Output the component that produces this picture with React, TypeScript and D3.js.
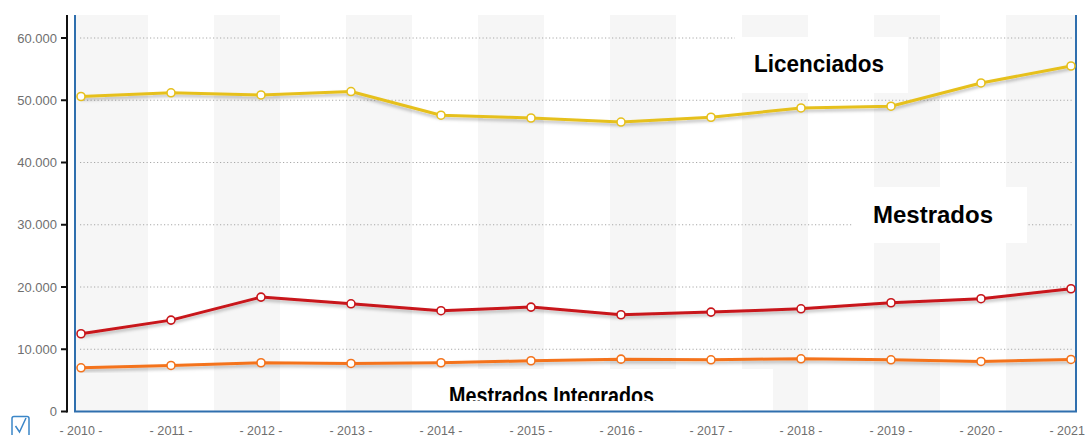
import React from "react";
import * as d3 from "d3";

const years = ["2010","2011","2012","2013","2014","2015","2016","2017","2018","2019","2020","2021"];
const licenciados = [50600, 51200, 50850, 51400, 47600, 47150, 46500, 47270, 48760, 49040, 52780, 55500];
const mestrados = [12490, 14680, 18380, 17300, 16190, 16770, 15540, 15970, 16500, 17470, 18120, 19720];
const integrados = [7020, 7400, 7830, 7720, 7830, 8150, 8410, 8310, 8470, 8310, 8040, 8360];
const yTicks = [0, 10000, 20000, 30000, 40000, 50000, 60000];
const seriesNames = ["Licenciados", "Mestrados", "Mestrados Integrados"];
const seriesColors = ["#e6c01e", "#c8161a", "#f4731c"];

const W = 1086, H = 435;
const plotL = 75, plotR = 1076, plotB = 411.5;

export default function App() {
  const x = d3.scalePoint<string>().domain(years).range([81, 1071]);
  const y = d3.scaleLinear().domain([0, 60000]).range([411.5, 38]);
  const bands = d3.scaleBand<number>().domain(d3.range(15)).range([82, 1072]).padding(0);
  const fmt = (v: number) => d3.format(",")(v).replace(/,/g, ".");
  const line = d3.line<number>().x((_, i) => x(years[i])!).y((v) => y(v));
  const series = [licenciados, mestrados, integrados];

  return (
    <svg width={W} height={H} style={{ position: "absolute", left: 0, top: 0, background: "#fff" }}>
      <defs>
        <filter id="sh" x="-5%" y="-50%" width="110%" height="200%">
          <feDropShadow dx="0" dy="2.5" stdDeviation="1.5" floodColor="#000" floodOpacity="0.25" />
        </filter>
        <clipPath id="clipMI">
          <rect x={430} y={369} width={343} height={32} />
        </clipPath>
      </defs>
      <rect x={0} y={0} width={W} height={H} fill="#fff" />
      {/* alternating bands */}
      {bands.domain().filter((i) => i % 2 === 0).map((i) => {
        const x0 = i === 0 ? plotL : bands(i)!;
        const x1 = i === 14 ? plotR : bands(i)! + bands.bandwidth();
        return <rect key={i} x={x0} y={15} width={x1 - x0} height={plotB - 15} fill="#f6f6f6" />;
      })}
      {/* gridlines */}
      {yTicks.filter((t) => t > 0).map((t) => (
        <line key={t} x1={80} x2={1073} y1={y(t)} y2={y(t)} stroke="#a8a8a8" strokeWidth={1} strokeDasharray="1.2,2.3" />
      ))}
      {/* black y axis */}
      <line x1={67} x2={67} y1={15} y2={412.5} stroke="#111" strokeWidth={2} />
      {yTicks.map((t) => (
        <g key={t}>
          <line x1={61} x2={67} y1={y(t)} y2={y(t)} stroke="#111" strokeWidth={2} />
          <text x={57} y={y(t)} dy="0.35em" textAnchor="end" fontFamily="Liberation Sans, Arial, sans-serif" fontSize={13} fill="#6f6f6f">
            {fmt(t)}
          </text>
        </g>
      ))}
      {/* blue plot border */}
      <path d={`M${plotL},15 V${plotB} H${plotR} V15`} fill="none" stroke="#2f6fae" strokeWidth={2} />
      {/* series */}
      {series.map((s, si) => (
        <g key={si}>
          <path d={line(s)!} fill="none" stroke={seriesColors[si]} strokeWidth={3} filter="url(#sh)" strokeLinejoin="round" />
          {s.map((v, i) => (
            <circle key={i} cx={x(years[i])!} cy={y(v)} r={4} fill="#fff" stroke={seriesColors[si]} strokeWidth={1.6} />
          ))}
        </g>
      ))}
      {/* label boxes */}
      <rect x={735} y={37} width={173} height={56} fill="#fff" />
      <text x={754} y={72} fontFamily="Liberation Sans, Arial, sans-serif" fontWeight="bold" fontSize={23} fill="#000" textLength={130} lengthAdjust="spacingAndGlyphs">
        {seriesNames[0]}
      </text>
      <rect x={853} y={187} width={174} height={56} fill="#fff" />
      <text x={873} y={223} fontFamily="Liberation Sans, Arial, sans-serif" fontWeight="bold" fontSize={23} fill="#000" textLength={120} lengthAdjust="spacingAndGlyphs">
        {seriesNames[1]}
      </text>
      <rect x={430} y={369} width={343} height={41} fill="#fff" />
      <text x={449} y={404} clipPath="url(#clipMI)" fontFamily="Liberation Sans, Arial, sans-serif" fontWeight="bold" fontSize={23} fill="#000" textLength={205} lengthAdjust="spacingAndGlyphs">
        {seriesNames[2]}
      </text>
      {/* x labels */}
      {years.map((yr) => (
        <text key={yr} x={x(yr)!} y={434.5} textAnchor="middle" fontFamily="Liberation Sans, Arial, sans-serif" fontSize={13.5} fill="#6f6f6f" textLength={43} lengthAdjust="spacingAndGlyphs">
          {`- ${yr} -`}
        </text>
      ))}
      {/* checkbox icon */}
      <rect x={12} y={416.5} width={17} height={20} rx={2} fill="#fff" stroke="#3b86c8" strokeWidth={1.5} />
      <path d="M15.5,426 L19.5,432 L26,418" fill="none" stroke="#3b86c8" strokeWidth={1.5} />
    </svg>
  );
}
